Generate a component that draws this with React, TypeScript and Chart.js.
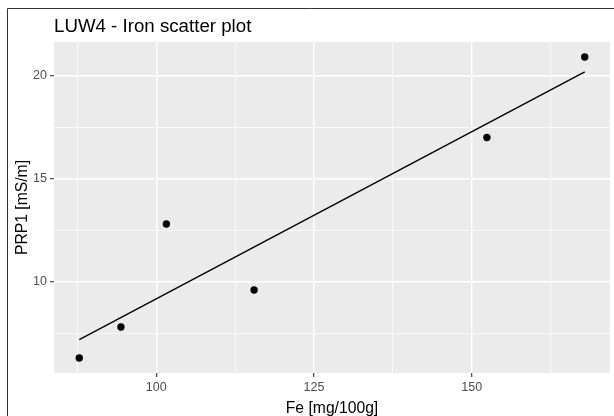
import React, { useEffect, useRef } from "react";
import { Chart, registerables } from "chart.js";

Chart.register(...registerables);

const chartTitle = "LUW4 - Iron scatter plot";
const xAxisTitle = "Fe [mg/100g]";
const yAxisTitle = "PRP1 [mS/m]";

const feValues = [87.8, 94.4, 101.6, 115.5, 152.4, 167.9];
const prpValues = [6.3, 7.8, 12.8, 9.6, 17.0, 20.9];

const xMajorTicks = [100, 125, 150];
const xMinorTicks = [87.5, 112.5, 137.5, 162.5];
const yMajorTicks = [10, 15, 20];
const yMinorTicks = [7.5, 12.5, 17.5];

const FONT = "'Liberation Sans', Arial, sans-serif";

function linearFit(xs: number[], ys: number[]) {
  const n = xs.length;
  const mx = xs.reduce((a, b) => a + b, 0) / n;
  const my = ys.reduce((a, b) => a + b, 0) / n;
  let sxy = 0;
  let sxx = 0;
  for (let i = 0; i < n; i++) {
    sxy += (xs[i] - mx) * (ys[i] - my);
    sxx += (xs[i] - mx) * (xs[i] - mx);
  }
  const slope = sxy / sxx;
  return (x: number) => my + slope * (x - mx);
}

function expand(vals: number[]) {
  const lo = Math.min(...vals);
  const hi = Math.max(...vals);
  const w = hi - lo;
  return [lo - 0.05 * w, hi + 0.05 * w];
}

export default function App() {
  const ref = useRef<HTMLCanvasElement | null>(null);

  useEffect(() => {
    if (!ref.current) return;
    const fit = linearFit(feValues, prpValues);
    const xLo = Math.min(...feValues);
    const xHi = Math.max(...feValues);
    const [xMin, xMax] = expand(feValues);
    const [yMin, yMax] = expand(prpValues);

    const bgPlugin = {
      id: "ggBg",
      beforeDraw(chart: any) {
        const { ctx, chartArea } = chart;
        ctx.save();
        ctx.fillStyle = "#FFFFFF";
        ctx.fillRect(0, 0, chart.width, chart.height);
        ctx.fillStyle = "#EBEBEB";
        ctx.fillRect(chartArea.left, chartArea.top, chartArea.right - chartArea.left, chartArea.bottom - chartArea.top);
        ctx.strokeStyle = "#333333";
        ctx.lineWidth = 1;
        ctx.beginPath();
        ctx.moveTo(7.5, chart.height);
        ctx.lineTo(7.5, 8.5);
        ctx.lineTo(chart.width, 8.5);
        ctx.stroke();
        ctx.restore();
      },
      afterDraw(chart: any) {
        const { ctx, chartArea } = chart;
        ctx.save();
        ctx.fillStyle = "#000000";
        ctx.font = `18.7px ${FONT}`;
        ctx.textAlign = "left";
        ctx.textBaseline = "alphabetic";
        ctx.fillText(chartTitle, chartArea.left, 31.7);
        ctx.font = `15.7px ${FONT}`;
        ctx.textAlign = "center";
        ctx.fillText(xAxisTitle, (chartArea.left + chartArea.right) / 2, 413);
        ctx.translate(27, (chartArea.top + chartArea.bottom) / 2);
        ctx.rotate(-Math.PI / 2);
        ctx.fillText(yAxisTitle, 0, 0);
        ctx.restore();
      },
    };

    const isMajor = (arr: number[], v: any) => v !== undefined && arr.some((m) => Math.abs(m - v) < 1e-9);

    const chart = new Chart(ref.current, {
      type: "scatter",
      data: {
        datasets: [
          {
            type: "scatter",
            data: feValues.map((x, i) => ({ x, y: prpValues[i] })),
            backgroundColor: "#000000",
            borderWidth: 0,
            pointRadius: 3.7,
            order: 1,
          },
          {
            type: "line",
            data: [
              { x: xLo, y: fit(xLo) },
              { x: xHi, y: fit(xHi) },
            ],
            borderColor: "#000000",
            borderWidth: 1.4,
            pointRadius: 0,
            fill: false,
            order: 2,
          } as any,
        ],
      },
      options: {
        animation: false,
        responsive: false,
        events: [],
        layout: { padding: { left: 0, top: 42, right: 2, bottom: 0 } },
        plugins: { legend: { display: false }, tooltip: { enabled: false }, title: { display: false } },
        scales: {
          x: {
            type: "linear",
            min: xMin,
            max: xMax,
            afterBuildTicks: (s: any) => {
              s.ticks = [...xMinorTicks, ...xMajorTicks].sort((a, b) => a - b).map((v) => ({ value: v }));
            },
            afterFit: (s: any) => {
              s.height = 43;
            },
            ticks: {
              autoSkip: false,
              maxRotation: 0,
              padding: 3,
              color: "#4D4D4D",
              font: { family: FONT, size: 12.5 },
              callback: (v: any) => (isMajor(xMajorTicks, v) ? String(v) : ""),
            },
            grid: {
              color: "#FFFFFF",
              lineWidth: (c: any) => (isMajor(xMajorTicks, c.tick?.value) ? 1.4 : 0.7),
              tickColor: (c: any) => (isMajor(xMajorTicks, c.tick?.value) ? "#333333" : "rgba(0,0,0,0)"),
              tickLength: 4,
              tickWidth: 1.1,
              drawTicks: true,
            },
            border: { display: false },
          },
          y: {
            type: "linear",
            min: yMin,
            max: yMax,
            afterBuildTicks: (s: any) => {
              s.ticks = [...yMinorTicks, ...yMajorTicks].sort((a, b) => a - b).map((v) => ({ value: v }));
            },
            afterFit: (s: any) => {
              s.width = 54;
            },
            ticks: {
              autoSkip: false,
              padding: 3,
              color: "#4D4D4D",
              font: { family: FONT, size: 12.5 },
              callback: (v: any) => (isMajor(yMajorTicks, v) ? String(v) : ""),
            },
            grid: {
              color: "#FFFFFF",
              lineWidth: (c: any) => (isMajor(yMajorTicks, c.tick?.value) ? 1.4 : 0.7),
              tickColor: (c: any) => (isMajor(yMajorTicks, c.tick?.value) ? "#333333" : "rgba(0,0,0,0)"),
              tickLength: 4,
              tickWidth: 1.1,
              drawTicks: true,
            },
            border: { display: false },
          },
        },
      } as any,
      plugins: [bgPlugin],
    });
    return () => chart.destroy();
  }, []);

  return (
    <div style={{ position: "absolute", left: 0, top: 0, width: 614, height: 416 }}>
      <canvas ref={ref} width={614} height={416} style={{ display: "block" }} />
    </div>
  );
}
